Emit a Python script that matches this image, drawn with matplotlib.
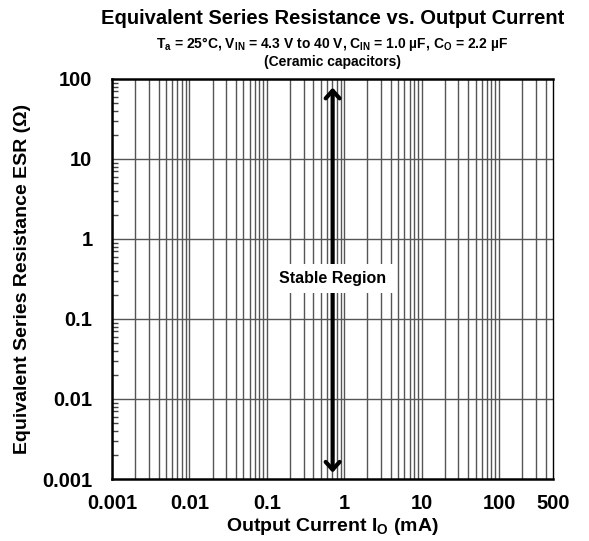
import matplotlib
matplotlib.use("Agg")
import matplotlib.pyplot as plt
from matplotlib.ticker import FixedLocator, NullFormatter, LogLocator

plt.rcParams['font.family'] = ['Liberation Sans', 'DejaVu Sans']
plt.rcParams['font.weight'] = 'bold'
plt.rcParams['mathtext.fontset'] = 'custom'
plt.rcParams['mathtext.rm'] = 'Liberation Sans:bold'
plt.rcParams['mathtext.it'] = 'Liberation Sans:bold'
plt.rcParams['mathtext.bf'] = 'Liberation Sans:bold'
plt.rcParams['mathtext.default'] = 'rm'

# axis ranges / ticks
x_ticks = [0.001, 0.01, 0.1, 1, 10, 100, 500]
x_labels = ['0.001', '0.01', '0.1', '1', '10', '100', '500']
y_ticks = [0.001, 0.01, 0.1, 1, 10, 100]
y_labels = ['0.001', '0.01', '0.1', '1', '10', '100']

# stable region arrow (output current, ESR span)
arrow_x = 0.71
arrow_y = [0.0012, 78]
label_y = 0.32

fig = plt.figure(figsize=(5.89, 5.41), dpi=100)
ax = fig.add_axes([0.190, 0.1146, 0.749, 0.7394])
ax.set_xscale('log')
ax.set_yscale('log')
ax.set_xlim(0.001, 500)
ax.set_ylim(0.001, 100)

# vertical grid on every 1..9 multiple
xgrid = [m * 10.0 ** e for e in range(-3, 3) for m in range(1, 10) if m * 10.0 ** e < 500]
for xv in xgrid:
    ax.axvline(xv, color='#555555', lw=1.0, zorder=1)
for yv in y_ticks[1:-1]:
    ax.axhline(yv, color='#555555', lw=1.0, zorder=1)

ax.xaxis.set_major_locator(FixedLocator(x_ticks))
ax.set_xticklabels(x_labels)
ax.xaxis.set_minor_locator(FixedLocator([]))
ax.tick_params(axis='x', which='both', length=0, labelsize=14.5, pad=11)

ax.yaxis.set_major_locator(FixedLocator(y_ticks))
ax.set_yticklabels(y_labels)
ax.yaxis.set_minor_locator(LogLocator(base=10, subs=range(2, 10)))
ax.yaxis.set_minor_formatter(NullFormatter())
ax.tick_params(axis='y', which='major', length=0, labelsize=14.5, pad=14)
ax.tick_params(axis='y', which='minor', direction='in', length=4, width=1, color='#444444')

for s in ['left', 'bottom', 'top']:
    ax.spines[s].set_linewidth(1.8)
ax.spines['right'].set_linewidth(1.0)

ax.annotate('', xy=(arrow_x, arrow_y[1]), xytext=(arrow_x, arrow_y[0]),
            arrowprops=dict(arrowstyle='<->,head_length=0.55,head_width=0.5',
                            lw=3, color='black', shrinkA=0, shrinkB=0), zorder=3)
ax.text(arrow_x, label_y, 'Stable Region', ha='center', va='center', fontsize=11.5,
        fontweight='bold', zorder=4,
        bbox=dict(boxstyle='square,pad=0.45', fc='white', ec='none'))

ax.set_xlabel('Output Current I$_\\mathrm{O}$ (mA)', fontsize=14, fontweight='bold', labelpad=2)
ax.set_ylabel('Equivalent Series Resistance ESR (Ω)', fontsize=14, fontweight='bold', labelpad=8)

cx = 0.190 + 0.749 / 2
fig.text(cx, 0.965, 'Equivalent Series Resistance vs. Output Current', ha='center', va='center',
         fontsize=14.5, fontweight='bold')
fig.text(cx, 0.918, 'T$_a$ = 25°C, V$_{IN}$ = 4.3 V to 40 V, C$_{IN}$ = 1.0 µF, C$_O$ = 2.2 µF',
         ha='center', va='center', fontsize=10, fontweight='bold')
fig.text(cx, 0.886, '(Ceramic capacitors)', ha='center', va='center', fontsize=10, fontweight='bold')

fig.savefig('out.png', dpi=100)
